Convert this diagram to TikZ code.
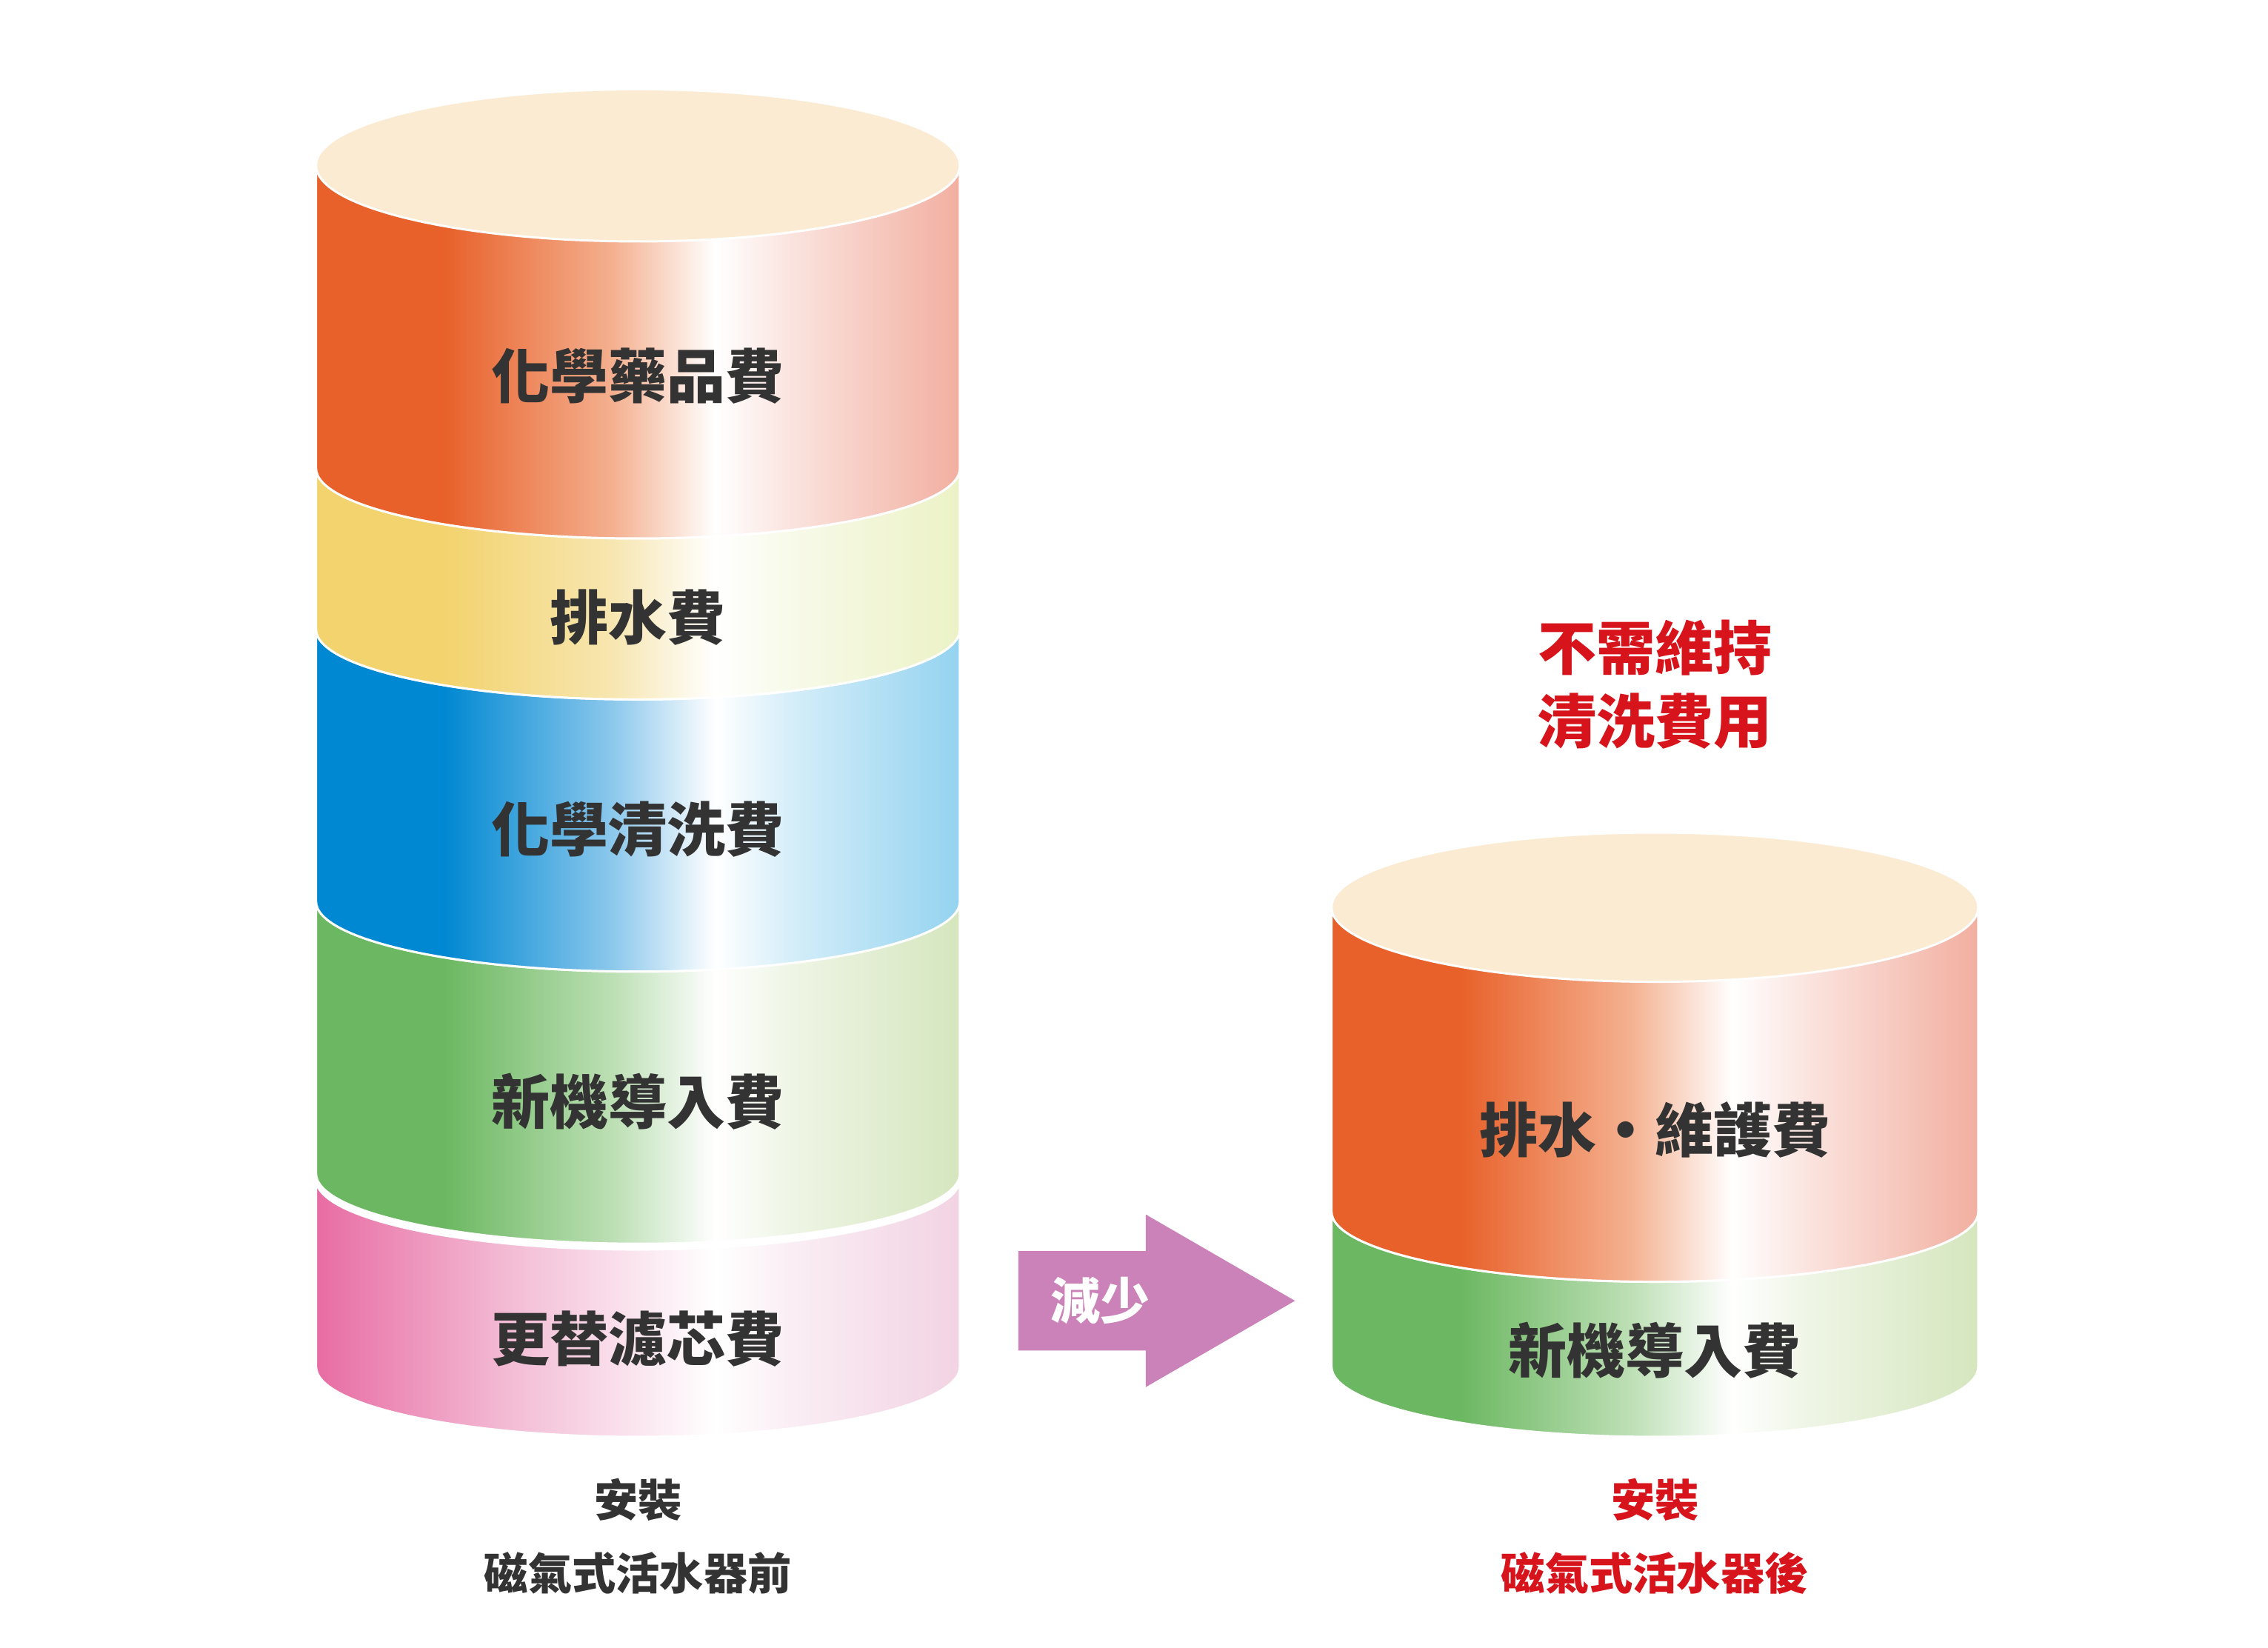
\documentclass[tikz,border=0pt]{standalone}
\usepackage{fontspec}
\newfontfamily\cjk{Noto Sans CJK TC}
\definecolor{txt}{HTML}{333333}
\definecolor{red1}{HTML}{D7141B}
\definecolor{cream}{HTML}{FBEBD3}
\definecolor{arrowc}{HTML}{CB82B8}
\definecolor{oA}{HTML}{E8612A}\definecolor{oB}{HTML}{F4B08F}\definecolor{oC}{HTML}{F2AFA0}
\definecolor{yA}{HTML}{F3D36E}\definecolor{yB}{HTML}{F7E6B0}\definecolor{yC}{HTML}{ECF2C6}
\definecolor{bA}{HTML}{0088D2}\definecolor{bB}{HTML}{8CC8EC}\definecolor{bC}{HTML}{94D3F0}
\definecolor{gA}{HTML}{6CB862}\definecolor{gB}{HTML}{BCDFB4}\definecolor{gC}{HTML}{D5E6BE}
\definecolor{pA}{HTML}{E86CA3}\definecolor{pB}{HTML}{F3BCD5}\definecolor{pC}{HTML}{F2D3E3}
\pgfdeclarehorizontalshading{shO}{100bp}{color(0bp)=(oA);color(25bp)=(oA);color(35bp)=(oA);color(48bp)=(oB);color(56bp)=(white);color(62bp)=(oC!35);color(75bp)=(oC);color(100bp)=(oC)}
\pgfdeclarehorizontalshading{shY}{100bp}{color(0bp)=(yA);color(25bp)=(yA);color(35bp)=(yA);color(48bp)=(yB);color(56bp)=(white);color(62bp)=(yC!40);color(75bp)=(yC);color(100bp)=(yC)}
\pgfdeclarehorizontalshading{shB}{100bp}{color(0bp)=(bA);color(25bp)=(bA);color(35bp)=(bA);color(48bp)=(bB);color(56bp)=(white);color(62bp)=(bC!40);color(75bp)=(bC);color(100bp)=(bC)}
\pgfdeclarehorizontalshading{shG}{100bp}{color(0bp)=(gA);color(25bp)=(gA);color(35bp)=(gA);color(48bp)=(gB);color(56bp)=(white);color(62bp)=(gC!40);color(75bp)=(gC);color(100bp)=(gC)}
\pgfdeclarehorizontalshading{shP}{100bp}{color(0bp)=(pA);color(25bp)=(pA);color(40bp)=(pB);color(56bp)=(white);color(62bp)=(pC!40);color(75bp)=(pC);color(100bp)=(pC)}
\tikzset{
 lbl/.style={font=\cjk\bfseries\fontsize{40}{44}\selectfont, text=txt},
 ttl/.style={font=\cjk\bfseries\fontsize{40}{50}\selectfont, text=red1, align=center},
 captxt/.style={font=\cjk\bfseries\fontsize{30}{50}\selectfont, text=txt, align=center},
}
\newcommand\mylayer[6]{%
 \shade[shading=#6, draw=white, line width=1.5pt] (#1-#2,#4) -- (#1-#2,#5) arc[start angle=180,end angle=360,x radius=#2,y radius=-#3] -- (#1+#2,#4) arc[start angle=0,end angle=-180,x radius=#2,y radius=-#3] -- cycle;}
\begin{document}
\begin{tikzpicture}[x=1pt,y=-1pt]
\useasboundingbox[fill=white] (0,0) rectangle (1550,1126);
\mylayer{436}{220}{48}{806}{934}{shP}
\mylayer{436}{220}{48}{616}{802}{shG}
\mylayer{436}{220}{48}{430}{616}{shB}
\mylayer{436}{220}{48}{320}{430}{shY}
\mylayer{436}{220}{48}{113}{320}{shO}
\fill[cream, draw=white, line width=1.5pt] (436,113) ellipse[x radius=220, y radius=52];
\node[lbl] (l1) at (436,257) {化學藥品費};
\node[lbl] (l2) at (436,422) {排水費};
\node[lbl] (l3) at (436,567) {化學清洗費};
\node[lbl] (l4) at (436,753) {新機導入費};
\node[lbl] (l5) at (436,915) {更替濾芯費};
\node[captxt] (c1) at (436,1050) {安裝\\磁氣式活水器前};
\fill[arrowc] (696,855) -- (783,855) -- (783,830) -- (885,889) -- (783,948) -- (783,923) -- (696,923) -- cycle;
\node[font=\cjk\bfseries\fontsize{34}{40}\selectfont, text=white] (ar) at (752,889) {減少};
\mylayer{1131}{221}{48}{828}{934}{shG}
\mylayer{1131}{221}{48}{620}{828}{shO}
\fill[cream, draw=white, line width=1.5pt] (1131,620) ellipse[x radius=221, y radius=51];
\node[lbl] (r1) at (1131,772) {排水·維護費};
\node[lbl] (r2) at (1131,923) {新機導入費};
\node[ttl] (t) at (1131,468) {不需維持\\清洗費用};
\node[captxt, text=red1] (c2) at (1131,1050) {安裝\\磁氣式活水器後};
\end{tikzpicture}
\end{document}
